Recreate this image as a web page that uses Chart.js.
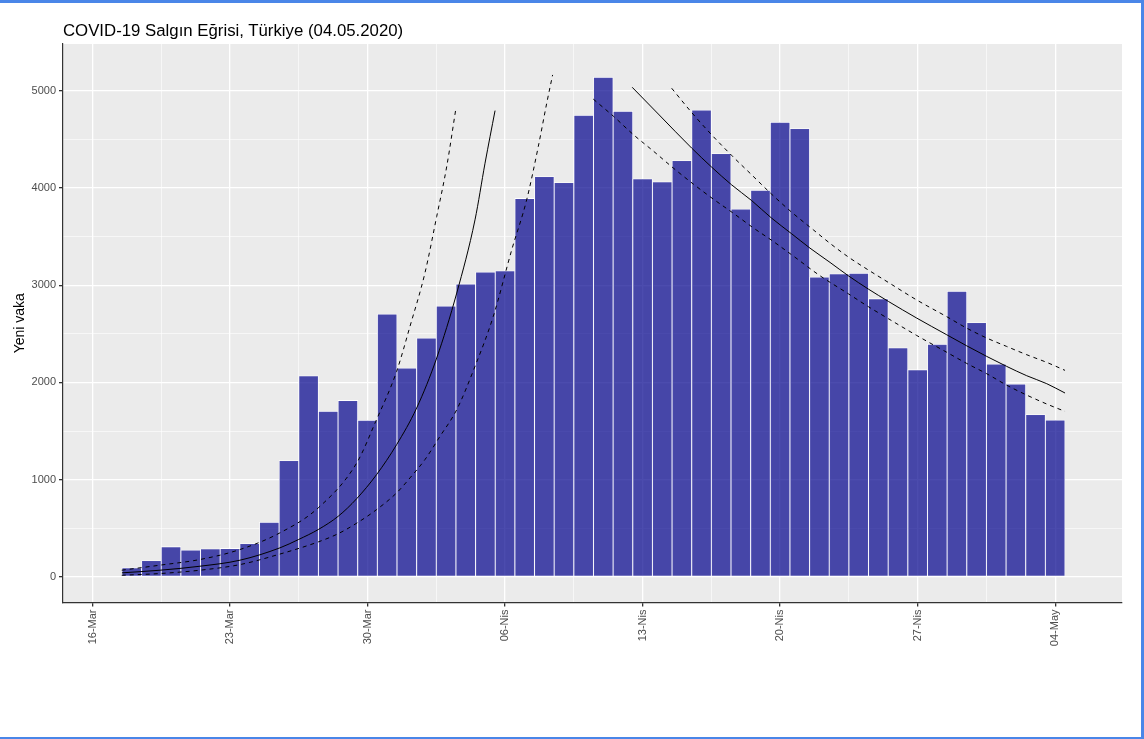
<!DOCTYPE html>
<html>
<head>
<meta charset="utf-8">
<script src="https://cdn.jsdelivr.net/npm/chart.js@4.4.1/dist/chart.umd.min.js"></script>
<style>
  html, body { margin: 0; padding: 0; background: #fff; }
  #wrap { position: relative; width: 1144px; height: 739px; overflow: hidden; }
  #chart { position: absolute; left: 0; top: 0; }
  #title { position: absolute; left: 63px; top: 22px; font: 16.8px/17px "Liberation Sans", Arial, sans-serif; color: #000; white-space: nowrap; }
  #frame { position: absolute; left: 0; top: 0; right: 0; bottom: 0; border-top: 3px solid #4a86e8; border-right: 3px solid #4a86e8; border-bottom: 2px solid #4a86e8; pointer-events: none; }
</style>
</head>
<body>
<div id="wrap">
  <canvas id="chart" width="1144" height="739"></canvas>
  <div id="title">COVID-19 Salgın Eğrisi, Türkiye (04.05.2020)</div>
  <div id="frame"></div>
</div>
<script>
// days are counted from 16-Mar (day 0)
const firstDay = 2; // 18-Mar
const cases = [93, 168, 311, 277, 289, 293, 343, 561, 1196, 2069, 1704, 1815, 1610, 2704,
  2148, 2456, 2786, 3013, 3135, 3148, 3892, 4117, 4056, 4747, 5138, 4789, 4093, 4062, 4281,
  4801, 4353, 3783, 3977, 4674, 4611, 3083, 3116, 3122, 2861, 2357, 2131, 2392, 2936, 2615,
  2188, 1983, 1670, 1614];

// fitted curves: [day, value]
const growthFit = [[1.5, 42], [3.44, 69], [5.47, 110], [7.51, 172], [9.54, 299], [10.48, 384],
  [11.49, 487], [12.51, 624], [13.45, 805], [14.46, 1052], [15.48, 1360], [16.5, 1737],
  [17.52, 2251], [18.54, 2919], [19.47, 3672], [19.98, 4254], [20.49, 4795]];
const growthUpper = [[1.49, 69], [3.44, 121], [5.47, 179], [7.51, 282], [9.54, 453], [11.49, 710],
  [13.45, 1172], [14.42, 1600], [15.48, 2113], [16.16, 2576], [16.92, 3124], [17.52, 3706],
  [18.03, 4220], [18.5, 4820]];
const growthLower = [[1.49, 17], [3.44, 35], [5.47, 69], [7.51, 127], [9.54, 235], [11.49, 360],
  [12.51, 445], [13.45, 553], [14.46, 692], [15.48, 864], [16.16, 1018], [16.92, 1206],
  [17.69, 1446], [18.54, 1720], [19.47, 2165], [20.4, 2679], [21.34, 3364], [22.1, 3878],
  [22.69, 4425], [23.12, 4871], [23.42, 5162]];
const declineFit = [[27.47, 5035], [28.8, 4760], [30.5, 4409], [31.52, 4213], [32.53, 4032],
  [33.55, 3870], [34.57, 3689], [35.59, 3528], [36.52, 3381], [37.54, 3234], [38.47, 3097],
  [39.49, 2960], [40.51, 2833], [41.95, 2662], [43.48, 2490], [44.49, 2377], [45.51, 2268],
  [46.53, 2165], [47.55, 2069], [48.57, 1987], [49.5, 1891]];
const declineUpper = [[29.48, 5025], [30.5, 4775], [31.52, 4545], [32.53, 4335], [33.55, 4135],
  [34.57, 3935], [35.59, 3750], [36.69, 3569], [37.54, 3430], [38.47, 3290], [39.49, 3156],
  [40.51, 3028], [41.95, 2848], [43.48, 2676], [44.49, 2559], [45.51, 2457], [46.53, 2370],
  [47.55, 2285], [48.57, 2206], [49.5, 2124]];
const declineLower = [[25.49, 4913], [26.51, 4738], [27.52, 4550], [28.54, 4380], [29.56, 4205],
  [30.58, 4040], [31.6, 3885], [32.61, 3741], [33.63, 3590], [34.65, 3450], [35.67, 3300],
  [37.03, 3097], [38.47, 2912], [39.49, 2779], [40.51, 2655], [41.95, 2483], [43.48, 2310],
  [44.49, 2196], [45.51, 2090], [46.53, 1972], [47.55, 1870], [48.57, 1778], [49.5, 1702]];

const xTickLabels = ['16-Mar', '23-Mar', '30-Mar', '06-Nis', '13-Nis', '20-Nis', '27-Nis', '04-May'];
const xMajor = [0, 7, 14, 21, 28, 35, 42, 49];
const xMinor = [3.5, 10.5, 17.5, 24.5, 31.5, 38.5, 45.5];
const yMajor = [0, 1000, 2000, 3000, 4000, 5000];
const yMinor = [500, 1500, 2500, 3500, 4500];

const FONT = '"Liberation Sans", Arial, sans-serif';

// grey ggplot panel
const panelBg = {
  id: 'panelBg',
  beforeDraw(chart) {
    const { ctx, chartArea: a } = chart;
    ctx.save();
    ctx.fillStyle = '#ebebeb';
    ctx.fillRect(a.left, a.top, a.right - a.left, a.bottom - a.top);
    ctx.restore();
  }
};

function curve(points, dashed) {
  return {
    type: 'line',
    data: points.map(p => ({ x: p[0], y: p[1] })),
    borderColor: '#000',
    borderWidth: 1,
    borderDash: dashed ? [4, 4] : [],
    pointRadius: 0,
    fill: false,
    cubicInterpolationMode: 'monotone',
    order: 0
  };
}

new Chart(document.getElementById('chart'), {
  type: 'bar',
  data: {
    datasets: [
      curve(growthFit, false),
      curve(growthUpper, true),
      curve(growthLower, true),
      curve(declineFit, false),
      curve(declineUpper, true),
      curve(declineLower, true),
      {
        type: 'bar',
        data: cases.map((v, i) => ({ x: firstDay + i, y: v })),
        backgroundColor: 'rgba(0,0,139,0.7)',
        borderColor: '#ffffff',
        borderWidth: 0.8,
        borderSkipped: false,
        barPercentage: 1,
        categoryPercentage: 1,
        order: 1
      }
    ]
  },
  options: {
    responsive: false,
    animation: false,
    layout: { padding: { top: 44, right: 22, bottom: 0, left: 0 } },
    plugins: {
      legend: { display: false },
      tooltip: { enabled: false }
    },
    scales: {
      x: {
        type: 'linear',
        min: -1.5,
        max: 52.4,
        offset: false,
        afterBuildTicks: s => { s.ticks = xMajor.concat(xMinor).sort((a, b) => a - b).map(v => ({ value: v })); },
        afterFit: s => { s.height = 136.5; },
        grid: {
          offset: false,
          color: '#ffffff',
          lineWidth: c => (c.tick && xMajor.includes(c.tick.value)) ? 1.3 : 0.6,
          tickColor: c => (c.tick && xMajor.includes(c.tick.value)) ? '#333333' : 'rgba(0,0,0,0)',
          tickLength: 4
        },
        border: { display: true, color: '#333333', width: 1.2 },
        ticks: {
          autoSkip: false,
          maxRotation: 90,
          minRotation: 90,
          padding: 3,
          color: '#4d4d4d',
          font: { family: FONT, size: 11 },
          callback: v => { const i = xMajor.indexOf(v); return i >= 0 ? xTickLabels[i] : ''; }
        }
      },
      y: {
        min: -263,
        max: 5480,
        afterBuildTicks: s => { s.ticks = yMajor.concat(yMinor).sort((a, b) => a - b).map(v => ({ value: v })); },
        afterFit: s => { s.width = 63; },
        grid: {
          color: '#ffffff',
          lineWidth: c => (c.tick && yMajor.includes(c.tick.value)) ? 1.3 : 0.6,
          tickColor: c => (c.tick && yMajor.includes(c.tick.value)) ? '#333333' : 'rgba(0,0,0,0)',
          tickLength: 4
        },
        border: { display: true, color: '#333333', width: 1.2 },
        ticks: {
          padding: 3,
          color: '#4d4d4d',
          font: { family: FONT, size: 11 },
          callback: v => yMajor.includes(v) ? String(v) : ''
        },
        title: {
          display: true,
          text: 'Yeni vaka',
          color: '#000',
          font: { family: FONT, size: 14 },
          padding: { top: 12, bottom: 0 }
        }
      }
    }
  },
  plugins: [panelBg]
});
</script>
</body>
</html>
